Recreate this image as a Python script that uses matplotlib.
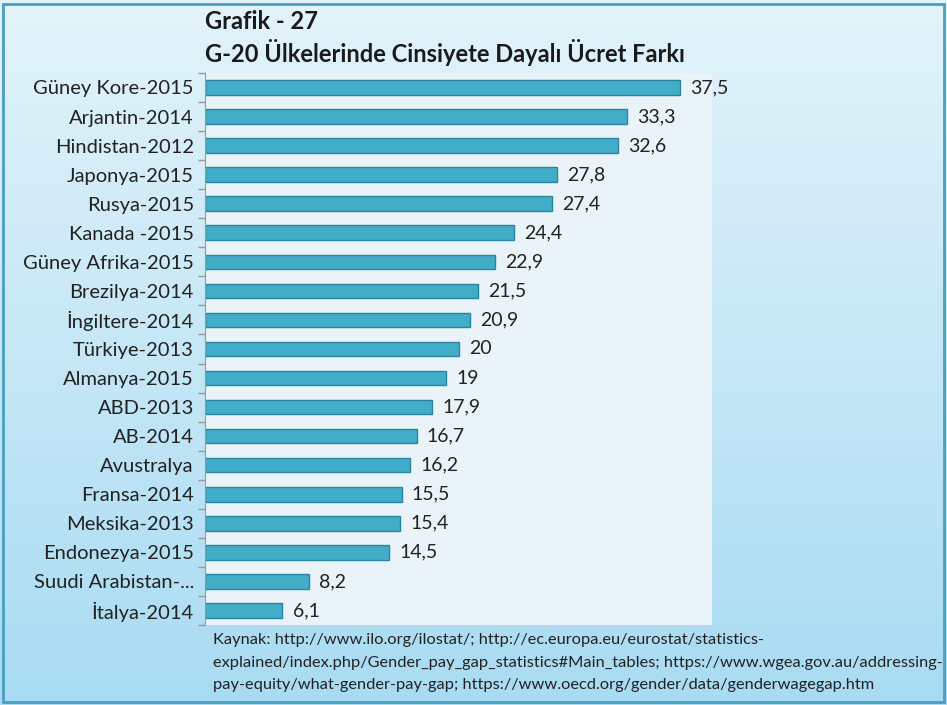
import matplotlib.pyplot as plt
import numpy as np
from matplotlib.patches import Rectangle

countries = ["Güney Kore-2015", "Arjantin-2014", "Hindistan-2012", "Japonya-2015",
             "Rusya-2015", "Kanada -2015", "Güney Afrika-2015", "Brezilya-2014",
             "İngiltere-2014", "Türkiye-2013", "Almanya-2015", "ABD-2013", "AB-2014",
             "Avustralya", "Fransa-2014", "Meksika-2013", "Endonezya-2015",
             "Suudi Arabistan-...", "İtalya-2014"]
values = [37.5, 33.3, 32.6, 27.8, 27.4, 24.4, 22.9, 21.5, 20.9, 20, 19, 17.9, 16.7,
          16.2, 15.5, 15.4, 14.5, 8.2, 6.1]
labels = ["37,5", "33,3", "32,6", "27,8", "27,4", "24,4", "22,9", "21,5", "20,9", "20",
          "19", "17,9", "16,7", "16,2", "15,5", "15,4", "14,5", "8,2", "6,1"]

title1 = "Grafik - 27"
title2 = "G-20 Ülkelerinde Cinsiyete Dayalı Ücret Farkı"
source = ("Kaynak: http://www.ilo.org/ilostat/; http://ec.europa.eu/eurostat/statistics-\n"
          "explained/index.php/Gender_pay_gap_statistics#Main_tables; https://www.wgea.gov.au/addressing-\n"
          "pay-equity/what-gender-pay-gap; https://www.oecd.org/gender/data/genderwagegap.htm")

plt.rcParams['font.family'] = ['Lato', 'DejaVu Sans']

fig = plt.figure(figsize=(9.47, 7.05), dpi=100)

# gradient background
bg = fig.add_axes([0, 0, 1, 1], zorder=-2)
top = np.array([0.89, 0.955, 0.98])
bot = np.array([0.66, 0.86, 0.95])
t = np.linspace(0, 1, 256)[:, None]
grad = top[None, :] * (1 - t) + bot[None, :] * t
bg.imshow(grad[:, None, :], aspect='auto', extent=[0, 1, 0, 1])
bg.set_xlim(0, 1)
bg.set_ylim(0, 1)
bg.axis('off')
fig.patches.append(Rectangle((0.003, 0.004), 0.994, 0.991, transform=fig.transFigure,
                             fill=False, edgecolor='#4a9fbf', linewidth=2))

ax = fig.add_axes([0.2165, 0.1135, 0.5355, 0.783])
ax.set_facecolor('#eaf3f7')
y = np.arange(len(values))
ax.barh(y, values, height=0.5, color='#41adc9', edgecolor='#2a86a0', linewidth=1)
for yi, v, lab in zip(y, values, labels):
    ax.text(v + 0.8, yi, lab, va='center', ha='left', fontsize=14, color='#222222')

ax.set_xlim(0, 40)
ax.set_ylim(len(values) - 0.5, -0.5)
ax.set_yticks(y)
ax.set_yticklabels(countries, fontsize=14.5, color='#222222')
ax.tick_params(axis='y', which='major', length=0, pad=8)
ax.set_yticks(np.arange(-0.5, len(values), 1), minor=True)
ax.tick_params(axis='y', which='minor', length=5, color='#999999', width=1)
ax.set_xticks([])
for s in ['top', 'right', 'bottom']:
    ax.spines[s].set_visible(False)
ax.spines['left'].set_color('#999999')

fig.text(0.2165, 0.97, title1, fontsize=17, fontweight='bold', va='center', color='#1a1a1a')
fig.text(0.2165, 0.925, title2, fontsize=17, fontweight='bold', va='center', color='#1a1a1a')
fig.text(0.225, 0.102, source, fontsize=11.8, va='top', ha='left', color='#222222',
         linespacing=1.78)

fig.savefig('out.png', dpi=100)
